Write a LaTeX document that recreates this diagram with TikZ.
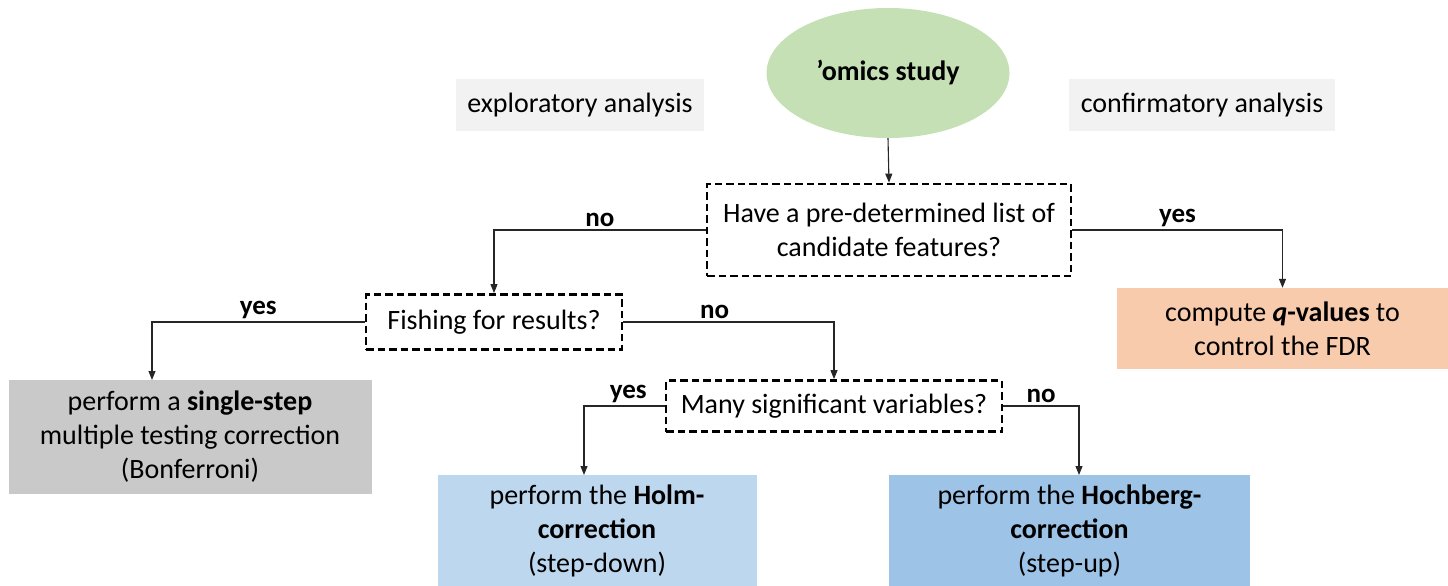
\documentclass[tikz,border=0pt]{standalone}
\usepackage{fontspec}
\setmainfont{Carlito}
\usetikzlibrary{shapes.geometric,arrows.meta,calc}
\definecolor{omicsgreen}{HTML}{C5E0B4}
\definecolor{tagbg}{HTML}{F2F2F2}
\definecolor{qorange}{HTML}{F8CBAD}
\definecolor{bonfgrey}{HTML}{C9C9C9}
\definecolor{holmblue}{HTML}{BDD7EE}
\definecolor{hochblue}{HTML}{9DC3E6}
\begin{document}
\begin{tikzpicture}[x=1pt,y=-1pt,
  every node/.style={font=\fontsize{28}{34}\selectfont, text=black},
  box/.style={rectangle, inner sep=0pt, align=center},
  qbox/.style={box, draw=black, line width=2.8pt, dash pattern=on 7.5pt off 4pt},
  conn/.style={draw=black!85, line width=1.1pt, -{Triangle[length=9pt,width=7pt]}},
  lbl/.style={font=\bfseries\fontsize{27}{32}\selectfont, inner sep=3pt, anchor=south}
]
\useasboundingbox (0,0) rectangle (1448,586);

% top
\node[ellipse, fill=omicsgreen, minimum width=243pt, minimum height=130pt, inner sep=0pt,
      font=\bfseries\fontsize{28}{34}\selectfont] (omics) at (888,73) {’omics study};
\node[box, fill=tagbg, minimum width=248pt, minimum height=52pt] (expl) at (580,105) {exploratory analysis};
\node[box, fill=tagbg, minimum width=266pt, minimum height=52pt] (conf) at (1202,105) {confirmatory analysis};

% questions
\node[qbox, minimum width=364pt, minimum height=92pt] (q1) at (889,230)
  {Have a pre-determined list of\\candidate features?};
\node[qbox, minimum width=256pt, minimum height=55pt] (fish) at (494,322) {Fishing for results?};
\node[qbox, minimum width=336pt, minimum height=51pt] (many) at (834,406) {Many significant variables?};

% outcomes
\node[box, fill=qorange, minimum width=331pt, minimum height=81pt] (fdr) at (1282.5,328.5)
  {compute \textbf{\textit{q}-values} to\\control the FDR};
\node[box, fill=bonfgrey, minimum width=363pt, minimum height=114pt] (bonf) at (190,437)
  {perform a \textbf{single-step}\\multiple testing correction\\(Bonferroni)};
\node[box, fill=holmblue, minimum width=319pt, minimum height=111pt] (holm) at (597,530.5)
  {perform the \textbf{Holm-}\\\textbf{correction}\\(step-down)};
\node[box, fill=hochblue, minimum width=361pt, minimum height=111pt] (hoch) at (1069.5,530.5)
  {perform the \textbf{Hochberg-}\\\textbf{correction}\\(step-up)};

% arrow targets that are off-centre
\coordinate (bonfin) at (152,380);
\coordinate (holmin) at (584,475);
\coordinate (hochin) at (1079,475);

% connectors
\draw[conn] (omics.south) -- (q1.north);
\draw[conn] (q1.west) -| node[lbl, pos=0.25] {no} (fish.north);
\draw[conn] (q1.east) -| node[lbl, pos=0.25] {yes} (fdr.north);
\draw[conn] (fish.west) -| node[lbl, pos=0.25] {yes} (bonfin);
\draw[conn] (fish.east) -| node[lbl, pos=0.25, xshift=-14pt] {no} (many.north);
\draw[conn] (many.west) -| node[lbl, pos=0.25, xshift=4pt] {yes} (holmin);
\draw[conn] (many.east) -| node[lbl, pos=0.25] {no} (hochin);
\end{tikzpicture}
\end{document}
